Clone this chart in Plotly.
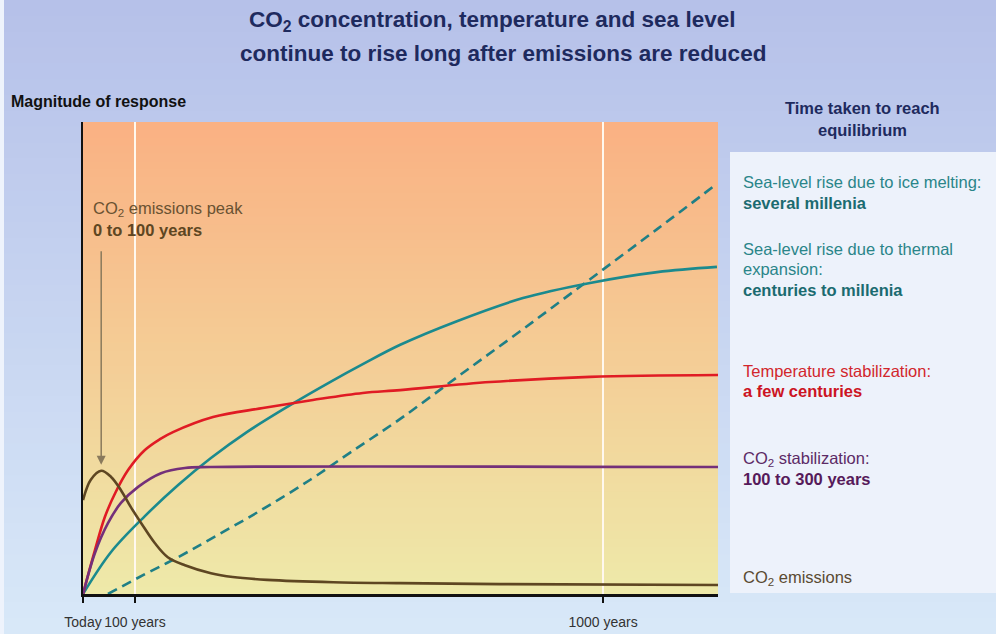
import plotly.graph_objects as go

# ---------------- data (schematic) ----------------
# x in years after "today"; y = magnitude of response (arbitrary units, 0-100)
emis_years = [0, 15, 35, 54, 73, 92, 112, 138, 163, 196, 246, 288, 354, 481, 610, 802, 1221]
emis_vals = [19.9, 24.2, 26.1, 24.8, 22.0, 18.4, 15.0, 10.8, 7.8, 6.1, 4.4, 3.6, 3.0, 2.5, 2.3, 2.1, 1.9]

temp_years = [0, 23, 42, 62, 87, 119, 148, 173, 250, 346, 442, 538, 610, 783, 975, 1221]
temp_vals = [0, 9.3, 16.3, 21.4, 26.3, 30.5, 32.8, 34.3, 37.5, 39.4, 41.1, 42.6, 43.2, 44.9, 46.0, 46.4]

co2_years = [0, 23, 48, 73, 106, 150, 196, 246, 1221]
co2_vals = [0, 8.7, 15.0, 19.3, 22.7, 25.6, 26.7, 26.9, 26.9]

thermal_years = [0, 54, 119, 183, 246, 315, 392, 475, 538, 610, 719, 846, 975, 1104, 1219]
thermal_vals = [0, 8.9, 16.5, 23.1, 28.8, 34.3, 39.6, 44.9, 48.7, 52.8, 57.8, 62.7, 65.9, 68.2, 69.3]

ice_years = [48, 119, 183, 246, 340, 437, 513, 610, 725, 846, 975, 1104, 1219]
ice_vals = [0, 4.2, 7.8, 11.7, 17.6, 24.2, 29.9, 37.1, 46.4, 56.1, 66.7, 77.3, 86.9]

tick_years = [0, 100, 1000]
tick_labels = ["Today", "100 years", "1000 years"]

# ---------------- layout geometry helpers ----------------
W, H = 996, 634
L, R, T, B = 83, 718, 122, 594
X_MAX = 1221


def px(x):
    return (x - L) / (R - L)


def py(y):
    return (B - y) / (B - T)


def hexmix(c1, c2, t):
    a = [int(c1[i:i + 2], 16) for i in (1, 3, 5)]
    b = [int(c2[i:i + 2], 16) for i in (1, 3, 5)]
    return "#%02x%02x%02x" % tuple(round(a[k] + (b[k] - a[k]) * t) for k in range(3))


FONT = "Liberation Sans, Arial, sans-serif"

RED = "#e01b24"
PURPLE = "#74307a"
TEAL = "#1b8a8e"
TEAL_D = "#1f7f86"
BROWN = "#5e4622"

fig = go.Figure()

line_kw = dict(mode="lines", line_shape="spline", hoverinfo="skip", showlegend=False)
fig.add_trace(go.Scatter(x=ice_years, y=ice_vals, line=dict(color=TEAL_D, width=2.6, dash="10px,6px", smoothing=1.0), **line_kw))
fig.add_trace(go.Scatter(x=thermal_years, y=thermal_vals, line=dict(color=TEAL, width=2.6, smoothing=1.0), **line_kw))
fig.add_trace(go.Scatter(x=temp_years, y=temp_vals, line=dict(color=RED, width=2.6, smoothing=1.0), **line_kw))
fig.add_trace(go.Scatter(x=co2_years, y=co2_vals, line=dict(color=PURPLE, width=2.6, smoothing=1.0), **line_kw))
fig.add_trace(go.Scatter(x=emis_years, y=emis_vals, line=dict(color=BROWN, width=2.6, smoothing=1.0), **line_kw))

shapes = []
# whole-figure background gradient
NB = 40
for i in range(NB):
    y0 = i * H / NB
    y1 = (i + 1) * H / NB + 1
    shapes.append(dict(type="rect", xref="paper", yref="paper", layer="below",
                       x0=px(0), x1=px(W), y0=py(y1), y1=py(y0),
                       fillcolor=hexmix("#b6c1e9", "#d8e8f8", i / (NB - 1)), line=dict(width=0)))
# thin light strip at the left edge
shapes.append(dict(type="rect", xref="paper", yref="paper", layer="below",
                   x0=px(0), x1=px(4), y0=py(H), y1=py(0),
                   fillcolor="#eef3fc", line=dict(width=0)))
# right-hand panel
shapes.append(dict(type="rect", xref="paper", yref="paper", layer="below",
                   x0=px(730), x1=px(W), y0=py(593), y1=py(152),
                   fillcolor="#edf2fb", line=dict(width=0)))
# plot-area gradient (orange -> pale yellow)
NP = 60
for i in range(NP):
    y0 = T + i * (B - T) / NP
    y1 = T + (i + 1) * (B - T) / NP + 1
    shapes.append(dict(type="rect", xref="paper", yref="paper", layer="below",
                       x0=0, x1=1, y0=max(0, py(y1)), y1=py(y0),
                       fillcolor=hexmix("#fab183", "#eee9a9", i / (NP - 1)), line=dict(width=0)))

ann = []


def text(x, y, s, size, color, anchor="left"):
    ann.append(dict(xref="paper", yref="paper", x=px(x), y=py(y), text=s, showarrow=False,
                    xanchor=anchor, yanchor="middle", font=dict(family=FONT, size=size, color=color)))


NAVY = "#1e2a5e"
text(492, 21, "<b>CO<sub>2</sub> concentration, temperature and sea level</b>", 22.5, NAVY, "center")
text(503, 54, "<b>continue to rise long after emissions are reduced</b>", 22.5, NAVY, "center")
text(9, 101, "<b>Magnitude of response</b>", 16, "#111111")
text(862, 108, "<b>Time taken to reach</b>", 16.5, NAVY, "center")
text(862, 130, "<b>equilibrium</b>", 16.5, NAVY, "center")

TEAL_T = "#2a8589"
TEAL_B = "#1b6b70"
FS = 16.5
text(741, 182, "Sea-level rise due to ice melting:", FS, TEAL_T)
text(741, 203, "<b>several millenia</b>", FS, TEAL_B)
text(741, 249, "Sea-level rise due to thermal", FS, TEAL_T)
text(741, 269, "expansion:", FS, TEAL_T)
text(741, 290, "<b>centuries to millenia</b>", FS, TEAL_B)
text(741, 371, "Temperature stabilization:", FS, "#d2262c")
text(741, 391, "<b>a few centuries</b>", FS, "#cc1423")
text(741, 459, "CO<sub>2</sub> stabilization:", FS, "#5c2a66")
text(741, 479, "<b>100 to 300 years</b>", FS, "#561a5a")
text(741, 578, "CO<sub>2</sub> emissions", FS, "#5a4a32")

text(91, 209, "CO<sub>2</sub> emissions peak", 16.5, "#6a5232")
text(91, 230, "<b>0 to 100 years</b>", 16.5, "#5e4622")

# arrow pointing at the emissions peak
i_peak = emis_vals.index(max(emis_vals))
ann.append(dict(x=emis_years[i_peak], y=emis_vals[i_peak], xref="x", yref="y", text="",
                showarrow=True, ax=0, ay=-221, axref="pixel", ayref="pixel",
                arrowhead=2, arrowsize=1.2, arrowwidth=1.5, arrowcolor="#8a7a5c", standoff=6))

fig.update_layout(
    width=W, height=H,
    margin=dict(l=L, r=W - R, t=T, b=H - B, pad=0, autoexpand=False),
    paper_bgcolor="#c4d0ee",
    plot_bgcolor="rgba(0,0,0,0)",
    shapes=shapes,
    annotations=ann,
    showlegend=False,
    xaxis=dict(range=[0, X_MAX], tickvals=tick_years, ticktext=tick_labels,
               showgrid=True, gridcolor="#fff8ee", gridwidth=2, zeroline=False,
               showline=True, linecolor="#111111", linewidth=3,
               ticks="outside", ticklen=6, tickwidth=2, tickcolor="#111111",
               ticklabelstandoff=7, automargin=False,
               tickfont=dict(family=FONT, size=14, color="#333333"), fixedrange=True),
    yaxis=dict(range=[0, 100], showgrid=False, zeroline=False, showticklabels=False,
               automargin=False,
               showline=True, linecolor="#111111", linewidth=2, ticks="", fixedrange=True),
)

fig.write_html("out.html", config={"displayModeBar": False},
               post_script="document.body.style.margin='0';document.body.style.padding='0';")
